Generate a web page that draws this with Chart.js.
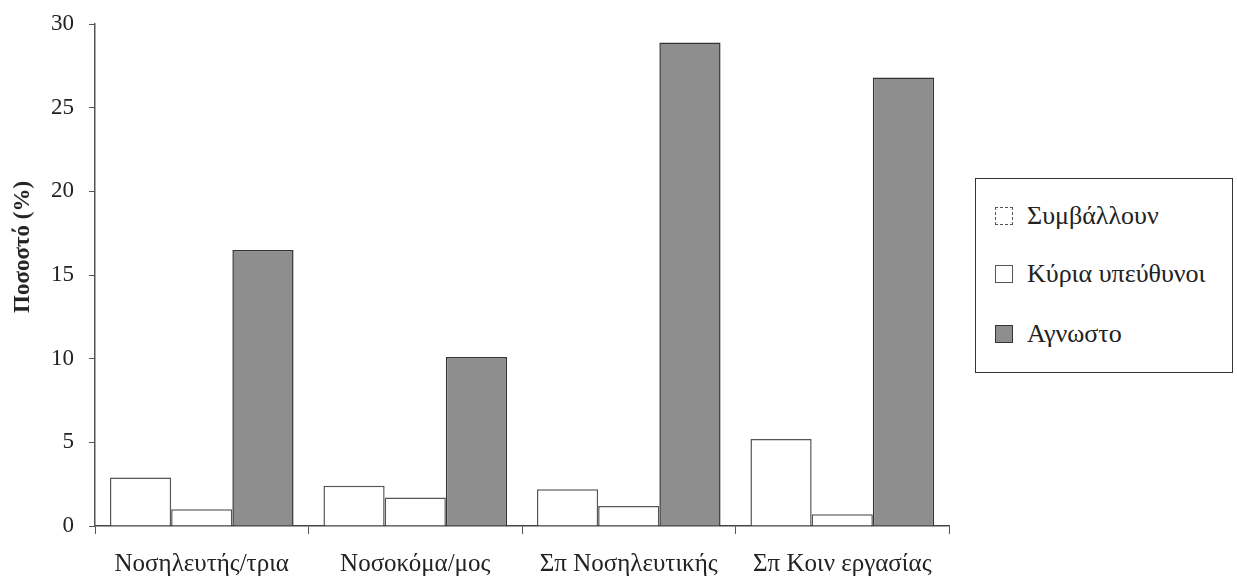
<!DOCTYPE html>
<html>
<head>
<meta charset="utf-8">
<script src="https://cdn.jsdelivr.net/npm/chart.js@4/dist/chart.umd.min.js"></script>
<style>
  html, body { margin: 0; padding: 0; background: #fff; }
  #wrap { position: relative; width: 1237px; height: 582px; }
  #ytitle {
    position: absolute; left: 22px; top: 247px; transform: translate(-50%, -50%) rotate(-90deg);
    white-space: nowrap; font-family: "Liberation Serif", "DejaVu Serif", serif;
    font-size: 23px; font-weight: bold; color: #222;
  }
  #legend {
    position: absolute; left: 975px; top: 178px; width: 258px; height: 195px;
    box-sizing: border-box; border: 1.5px solid #333; background: #fff;
    font-family: "Liberation Serif", "DejaVu Serif", serif; font-size: 26px; color: #222;
  }
  .item { position: absolute; left: 19px; display: flex; align-items: center; height: 30px; }
  .sw { width: 18px; height: 18px; box-sizing: border-box; border: 1.5px solid #444; margin-right: 14px; }
</style>
</head>
<body>
<div id="wrap">
  <canvas id="c" width="1237" height="582"></canvas>
  <div id="ytitle">Ποσοστό (%)</div>
  <div id="legend"></div>
</div>
<script>
// Occupational groups on the x axis
const categories = ["Νοσηλευτής/τρια", "Νοσοκόμα/μος", "Σπ Νοσηλευτικής", "Σπ Κοιν εργασίας"];
// Percentages per response
const contribute = [2.9, 2.4, 2.2, 5.2];     // Συμβάλλουν
const mainlyResp = [1.0, 1.7, 1.2, 0.7];     // Κύρια υπεύθυνοι
const unknown = [16.5, 10.1, 28.9, 26.8];    // Άγνωστο
const seriesNames = ["Συμβάλλουν", "Κύρια υπεύθυνοι", "Αγνωστο"];
const yTicks = [0, 5, 10, 15, 20, 25, 30];

const fills = ["#ffffff", "#ffffff", "#8e8e8e"];
const edges = ["#555555", "#555555", "#333333"];
const serif = "'Liberation Serif', 'DejaVu Serif', serif";

const datasets = [contribute, mainlyResp, unknown].map((d, i) => ({
  label: seriesNames[i],
  data: d,
  backgroundColor: fills[i],
  borderColor: edges[i],
  borderWidth: 1.5,
  barPercentage: 1.0,
  categoryPercentage: 0.86
}));

new Chart(document.getElementById("c"), {
  type: "bar",
  data: { labels: categories, datasets },
  options: {
    responsive: false,
    animation: false,
    layout: { padding: { top: 24, right: 288, left: 0, bottom: 0 } },
    plugins: { legend: { display: false }, tooltip: { enabled: false } },
    scales: {
      x: {
        grid: { drawOnChartArea: false, color: "#555", tickLength: 8, lineWidth: 1 },
        border: { color: "#444", width: 1.5 },
        ticks: { color: "#222", font: { family: serif, size: 25 }, padding: 15, maxRotation: 0, autoSkip: false },
        afterFit: s => { s.height = 582 - 526; }
      },
      y: {
        min: 0, max: 30,
        afterBuildTicks: s => { s.ticks = yTicks.map(v => ({ value: v })); },
        grid: { drawOnChartArea: false, color: "#555", tickLength: 6 },
        border: { color: "#555", width: 1.5 },
        ticks: { color: "#222", font: { family: serif, size: 23 }, padding: 15 },
        afterFit: s => { s.width = 95; s.paddingTop = 0; s.paddingBottom = 0; }
      }
    }
  }
});

// Boxed legend on the right
const legend = document.getElementById("legend");
const rows = [37, 95, 155];
seriesNames.forEach((name, i) => {
  const it = document.createElement("div");
  it.className = "item";
  it.style.top = (rows[i] - 15) + "px";
  const sw = document.createElement("span");
  sw.className = "sw";
  sw.style.background = fills[i];
  sw.style.borderColor = edges[i];
  if (i === 0) sw.style.borderStyle = "dashed";
  const tx = document.createElement("span");
  tx.textContent = name;
  it.appendChild(sw); it.appendChild(tx);
  legend.appendChild(it);
});
</script>
</body>
</html>
